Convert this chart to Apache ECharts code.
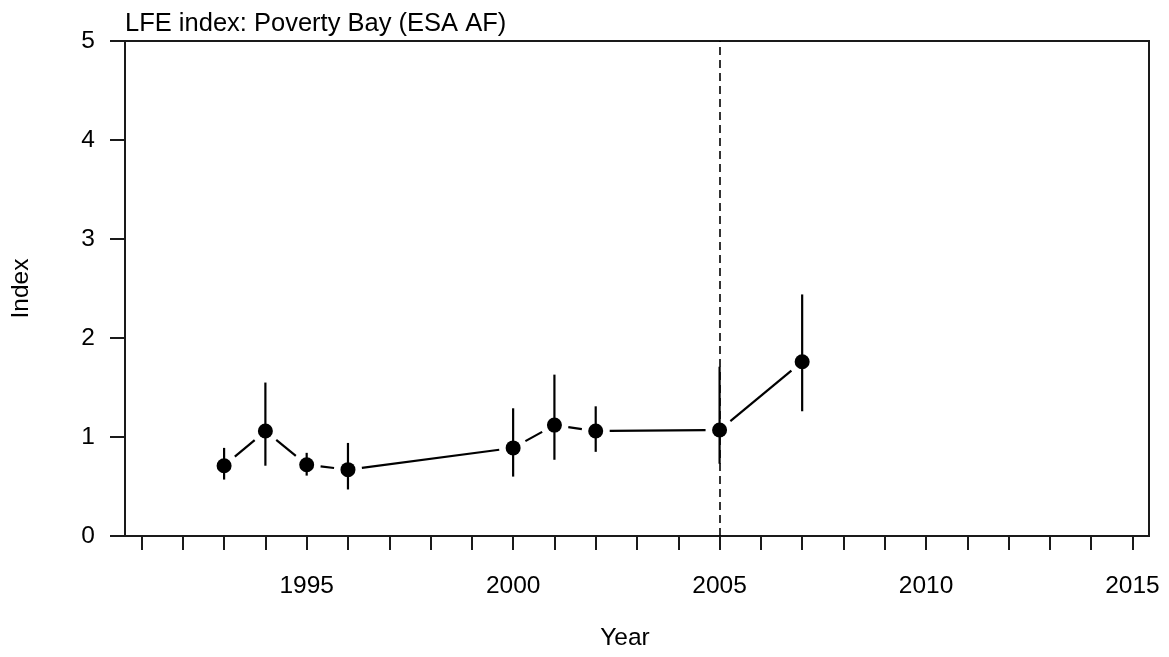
<!DOCTYPE html>
<html>
<head>
<meta charset="utf-8">
<title>LFE index: Poverty Bay (ESA AF)</title>
<script src="https://cdn.jsdelivr.net/npm/echarts@6/dist/echarts.min.js"></script>
<style>
  html, body { margin: 0; padding: 0; background: #ffffff; }
  #chart { width: 1169px; height: 657px; }
</style>
</head>
<body>
<div id="chart"></div>
<script>
// Survey years with the standardised LFE index and its confidence bounds
const years = [1993, 1994, 1995, 1996, 2000, 2001, 2002, 2005, 2007];
const indexValues = [0.71, 1.06, 0.72, 0.67, 0.89, 1.12, 1.06, 1.07, 1.76];
const lowerCI = [0.57, 0.71, 0.61, 0.47, 0.60, 0.77, 0.85, 0.73, 1.26];
const upperCI = [0.89, 1.55, 0.84, 0.94, 1.29, 1.63, 1.31, 1.71, 2.44];

// Axis ticks and labels
const tickYears = [1991, 1992, 1993, 1994, 1995, 1996, 1997, 1998, 1999, 2000, 2001, 2002,
                   2003, 2004, 2005, 2006, 2007, 2008, 2009, 2010, 2011, 2012, 2013, 2014, 2015];
const labelYears = [1995, 2000, 2005, 2010, 2015];
const changeYear = 2005;

const ink = '#000000';
const frame = '#1a1a1a';
const font = 'Liberation Sans, Arial, sans-serif';

// Line segments between consecutive points, cut short near each point
const connectorData = years.slice(0, -1).map((y, i) => [y, indexValues[i], years[i + 1], indexValues[i + 1]]);
const errorData = years.map((y, i) => [y, lowerCI[i], upperCI[i]]);
const pointData = years.map((y, i) => [y, indexValues[i]]);

const chart = echarts.init(document.getElementById('chart'), null, { renderer: 'canvas' });

chart.setOption({
  animation: false,
  backgroundColor: '#ffffff',
  title: {
    text: 'LFE index: Poverty Bay (ESA AF)',
    left: 125,
    top: 11,
    padding: 0,
    textStyle: { fontFamily: font, fontSize: 25.5, fontWeight: 'normal', color: ink }
  },
  grid: {
    left: 125, right: 20, top: 41, bottom: 121,
    show: true, borderColor: frame, borderWidth: 2, backgroundColor: 'transparent'
  },
  xAxis: {
    type: 'value',
    min: 1990.6,
    max: 2015.4,
    name: 'Year',
    nameLocation: 'middle',
    nameGap: 90,
    nameTextStyle: { fontFamily: font, fontSize: 24.5, color: ink, padding: [0, 24, 0, 0] },
    axisLine: { show: true, lineStyle: { color: frame, width: 2 } },
    axisTick: { show: true, length: 14, customValues: tickYears, lineStyle: { color: frame, width: 2 } },
    axisLabel: { customValues: labelYears, margin: 38, fontFamily: font, fontSize: 24.5, color: ink,
                 formatter: v => String(v) },
    splitLine: { show: false }
  },
  yAxis: {
    type: 'value',
    min: 0,
    max: 5,
    interval: 1,
    name: 'Index',
    nameLocation: 'middle',
    nameGap: 91,
    nameTextStyle: { fontFamily: font, fontSize: 24.5, color: ink },
    axisLine: { show: true, lineStyle: { color: frame, width: 2 } },
    axisTick: { show: true, length: 15, lineStyle: { color: frame, width: 2 } },
    axisLabel: { margin: 30, fontFamily: font, fontSize: 24.5, color: ink },
    splitLine: { show: false }
  },
  series: [
    {
      name: 'connectors',
      type: 'custom',
      data: connectorData,
      encode: { x: [0, 2], y: [1, 3] },
      silent: true,
      z: 2,
      renderItem: (params, api) => {
        const a = api.coord([api.value(0), api.value(1)]);
        const b = api.coord([api.value(2), api.value(3)]);
        const dx = b[0] - a[0], dy = b[1] - a[1];
        const len = Math.hypot(dx, dy);
        const gap = 14;
        if (len <= 2 * gap) return null;
        const ux = dx / len, uy = dy / len;
        return {
          type: 'line',
          shape: { x1: a[0] + ux * gap, y1: a[1] + uy * gap, x2: b[0] - ux * gap, y2: b[1] - uy * gap },
          style: { stroke: ink, lineWidth: 2.2 }
        };
      }
    },
    {
      name: 'confidence interval',
      type: 'custom',
      data: errorData,
      encode: { x: 0, y: [1, 2] },
      silent: true,
      z: 3,
      renderItem: (params, api) => {
        const lo = api.coord([api.value(0), api.value(1)]);
        const hi = api.coord([api.value(0), api.value(2)]);
        return {
          type: 'line',
          shape: { x1: lo[0], y1: lo[1], x2: hi[0], y2: hi[1] },
          style: { stroke: ink, lineWidth: 2.2 }
        };
      }
    },
    {
      name: 'index',
      type: 'scatter',
      data: pointData,
      symbol: 'circle',
      symbolSize: 15,
      itemStyle: { color: '#000000', opacity: 1 },
      z: 4,
      markLine: {
        silent: true,
        symbol: ['none', 'none'],
        label: { show: false },
        lineStyle: { color: ink, width: 1.6, type: [8, 5], opacity: 1 },
        data: [{ xAxis: changeYear }]
      }
    }
  ]
});
</script>
</body>
</html>
